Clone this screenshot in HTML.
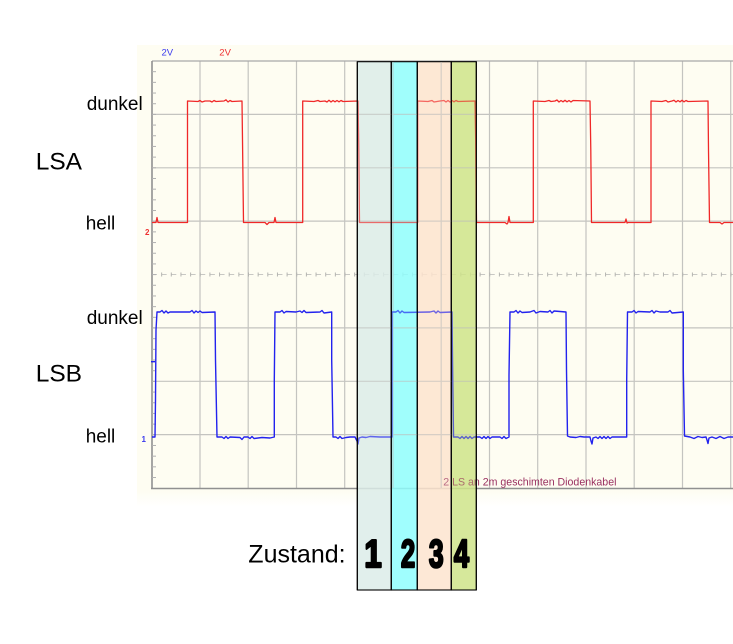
<!DOCTYPE html>
<html><head><meta charset="utf-8"><style>
html,body{margin:0;padding:0;background:#fff;}
svg{display:block;}
</style></head><body>
<svg width="733" height="644" viewBox="0 0 733 644" xmlns="http://www.w3.org/2000/svg" xmlns:xlink="http://www.w3.org/1999/xlink" font-family="'Liberation Sans', Arial, sans-serif">
<rect x="0" y="0" width="733" height="644" fill="#ffffff"/>
<defs>
<linearGradient id="fade" x1="0" y1="0" x2="0" y2="1">
<stop offset="0" stop-color="#fefdf2"/><stop offset="1" stop-color="#ffffff"/>
</linearGradient>
<clipPath id="cols"><rect x="358" y="62" width="118" height="426"/></clipPath>
</defs>
<rect x="137" y="45" width="596" height="447" fill="#fefdf2"/>
<rect x="137" y="491" width="596" height="16" fill="url(#fade)"/>

<!-- grid -->
<g id="grid" stroke="#c4c4c0" stroke-width="1.2">
<line x1="200" y1="61" x2="200" y2="488"/>
<line x1="248.2" y1="61" x2="248.2" y2="488"/>
<line x1="296.5" y1="61" x2="296.5" y2="488"/>
<line x1="344.7" y1="61" x2="344.7" y2="488"/>
<line x1="393" y1="61" x2="393" y2="488"/>
<line x1="441.2" y1="61" x2="441.2" y2="488"/>
<line x1="489.5" y1="61" x2="489.5" y2="488"/>
<line x1="537.7" y1="61" x2="537.7" y2="488"/>
<line x1="586" y1="61" x2="586" y2="488"/>
<line x1="634.2" y1="61" x2="634.2" y2="488"/>
<line x1="682.5" y1="61" x2="682.5" y2="488"/>
<line x1="730.7" y1="61" x2="730.7" y2="488"/>
<line x1="152" y1="114.4" x2="733" y2="114.4"/>
<line x1="152" y1="167.8" x2="733" y2="167.8"/>
<line x1="152" y1="221.1" x2="733" y2="221.1"/>
<line x1="152" y1="327.9" x2="733" y2="327.9"/>
<line x1="152" y1="381.3" x2="733" y2="381.3"/>
<line x1="152" y1="434.6" x2="733" y2="434.6"/>
</g>
<!-- center tick axis -->
<line x1="152" y1="274.5" x2="733" y2="274.5" stroke="#c8c8c4" stroke-width="1" stroke-dasharray="5,4.65"/>
<g stroke="#b4b4b0" stroke-width="1" id="cticks"></g>
<!-- border -->
<line x1="152" y1="61" x2="733" y2="61" stroke="#a8a8a8" stroke-width="1.3"/>
<line x1="152" y1="61" x2="152" y2="489" stroke="#909090" stroke-width="1.6"/>
<line x1="151" y1="488.5" x2="733" y2="488.5" stroke="#909090" stroke-width="1.6"/>
<g stroke="#b0b0b0" stroke-width="1" id="lticks"></g>

<!-- red trace -->
<path id="red" fill="none" stroke="#f02828" stroke-width="1.3" stroke-linejoin="round" d="
M152,222.5 L156,222.5 L157,217.5 L158,222.5 L187.5,222.5 L187.5,101
L198,101.5 L200,100.5 L202,102 L205,101 L210,101 L212,102 L214,100.5 L216,101.5 L224,101 L226,99.8 L228,102 L230,100.5 L232,101.5 L242,101
L242.5,140 L243.5,222.5 L265,222.5 L267,224.5 L269,222.5 L274,222.5 L275,217.5 L276,222.5 L302.7,222.5 L302.7,101
L314,101.5 L318,100.5 L320,101.5 L325,101 L327,102 L329,100.3 L331,102 L333,100.5 L335,101.8 L337,100.5 L339,101.8 L341,100.5 L343,101.5 L358,101
L358.8,150 L359.5,222.5 L417.7,222.5 L417.7,101
L428,101.5 L432,100.5 L434,102 L440,101 L444,100.5 L446,102 L448,100.5 L450,102 L452,100.5 L454,101.8 L456,100.5 L458,101.5 L475,101
L475.7,140 L476.5,222.5 L505,222.5 L507,224 L508,222.5 L509,216.5 L510,222.5 L533.3,222.5 L533.3,101
L545,101.5 L549,100.5 L551,101.5 L555,101 L557,100 L559,102 L561,100.5 L563,101.8 L565,100.3 L567,101.8 L569,100.5 L571,102 L573,100.5 L590,101
L590.8,150 L591.5,222.5 L625,222.5 L626,219 L627,223 L628,222.5 L651,222.5 L651,101
L662,101.5 L666,100.5 L668,102 L672,101 L674,100.3 L676,102 L678,100.5 L680,101.8 L682,100.3 L684,101.8 L686,100.5 L688,101.5 L708,101
L708.5,150 L709.5,222.5 L720,222.5 L722,224 L724,222.5 L733,222.5"/>

<!-- blue trace -->
<path id="blue" fill="none" stroke="#2222ee" stroke-width="1.4" stroke-linejoin="round" d="
M151,361.7 L155,361.7 M152,437 L155,437 L155.5,400 L156,330 L157,312
L160,312 L162,310.5 L164,313 L166,311 L168,313 L170,312 L178,312 L190,312 L192,310.5 L194,313 L196,311 L198,312.5 L200,311 L202,312.5 L215,312
L215.5,360 L217,437 L222,437 L224,438.5 L226,436.5 L228,438.5 L230,437 L240,437.5 L242,439.5 L244,437 L248,437 L250,438.5 L252,436.5 L254,438.5 L262,437.5 L270,438 L274.3,437
L274.3,380 L275,312 L280,312 L282,310.5 L284,313 L286,311.5 L296,312 L300,311 L302,312.5 L304,310.5 L306,312.5 L320,312 L322,310.5 L324,313 L331.7,312
L331.7,360 L333,437 L336,437 L338,438.5 L340,436.5 L342,438.5 L346,437.5 L350,437 L355,437 L357,441 L358,444 L359,438 L362,437 L366,437.5 L370,436.5 L380,437 L392,437
L392,312 L396,312 L398,310.5 L400,313 L402,311 L404,312.5 L430,312 L434,311 L436,313 L438,311 L440,312.5 L452,312
L452.5,360 L453.5,437 L458,437 L460,438.5 L462,436.5 L464,438.5 L466,436.5 L468,438.5 L470,436.5 L472,438.5 L474,437 L480,437 L482,438.5 L484,436.5 L486,438.5 L488,436.5 L490,438.5 L492,437 L500,437 L502,438.5 L504,436.5 L506,438.5 L509,437
L509,375 L510,312 L514,312 L516,310.5 L518,313 L520,311 L522,312.5 L530,312 L534,310.5 L536,313 L540,311.5 L548,312 L550,310.5 L552,313 L554,311 L566,312
L566.5,370 L567.5,436 L570,437 L576,437.5 L580,436.5 L584,437 L590,437 L591,441 L592,444 L593,438 L596,437 L598,438.5 L600,436.5 L602,438.5 L604,436.5 L606,438.5 L608,436.5 L610,438.5 L612,437 L626.7,437
L626.7,380 L627.5,312 L632,312 L634,310.5 L636,313 L638,311.5 L650,312 L652,310.5 L654,313 L656,311 L660,312 L668,312 L670,310.5 L672,313 L683.3,312
L683.3,370 L684.5,436 L690,437 L694,438.5 L698,436.5 L702,437.5 L706,437 L707,440 L708,443.5 L709,438 L712,437 L716,438.5 L720,436.5 L724,438.5 L728,437 L733,437"/>

<!-- small labels -->
<text x="161.5" y="55.5" font-size="9.5" fill="#3a3aee">2V</text>
<text x="219.3" y="55.5" font-size="9.5" fill="#ee3030">2V</text>
<text x="145" y="235" font-size="8" fill="#ee3030" font-weight="bold">2</text>
<text x="141.5" y="442" font-size="8" fill="#3a3aee" font-weight="bold">1</text>
<text id="cap" x="443.3" y="485.5" font-size="10.6" fill="#9a3060">2 LS an 2m geschimten Diodenkabel</text>

<!-- state columns -->
<g stroke="#000" stroke-width="1.1">
<rect x="357.3" y="61.7" width="34" height="528.3" fill="#dcece9" fill-opacity="0.85"/>
<rect x="391.3" y="61.7" width="26" height="528.3" fill="#8ffefe" fill-opacity="0.85"/>
<rect x="417.3" y="61.7" width="34" height="528.3" fill="#fde4cf" fill-opacity="0.85"/>
<rect x="451.3" y="61.7" width="25" height="528.3" fill="#cfe489" fill-opacity="0.85"/>
</g>
<!-- see-through of grid and traces inside columns -->
<g clip-path="url(#cols)" opacity="0.6">
<use xlink:href="#grid" href="#grid"/>
<use xlink:href="#red" href="#red"/>
<use xlink:href="#blue" href="#blue"/>
<use xlink:href="#cap" href="#cap"/>
</g>
<g stroke="#000" stroke-width="1.1" fill="none">
<line x1="357.3" y1="61.7" x2="357.3" y2="590"/>
<line x1="391.3" y1="61.7" x2="391.3" y2="590"/>
<line x1="417.3" y1="61.7" x2="417.3" y2="590"/>
<line x1="451.3" y1="61.7" x2="451.3" y2="590"/>
<line x1="476.3" y1="61.7" x2="476.3" y2="590"/>
</g>

<!-- left labels -->
<g fill="#000">
<text x="86.7" y="110" font-size="19">dunkel</text>
<text x="35.7" y="169.3" font-size="24.5">LSA</text>
<text x="85.7" y="229.3" font-size="19">hell</text>
<text x="86.7" y="324" font-size="19">dunkel</text>
<text x="35.7" y="381.7" font-size="24.5">LSB</text>
<text x="85.7" y="442.7" font-size="19">hell</text>
<text x="248.3" y="562.3" font-size="25">Zustand:</text>
</g>
<g fill="#000" stroke="#000" stroke-width="2.4" stroke-linejoin="round" font-weight="bold" font-size="39" text-anchor="middle">
<text transform="translate(373,567) scale(0.8,1)">1</text>
<text transform="translate(408,567) scale(0.66,1)">2</text>
<text transform="translate(436.2,567) scale(0.68,1)">3</text>
<text transform="translate(461.5,567) scale(0.7,1)">4</text>
</g>
</svg>
<script>
(function(){
  var ns="http://www.w3.org/2000/svg";
  var c=document.getElementById("cticks");
  for(var x=152+9.65;x<733;x+=9.65){
    var l=document.createElementNS(ns,"line");
    l.setAttribute("x1",x.toFixed(2));l.setAttribute("x2",x.toFixed(2));
    l.setAttribute("y1","272.5");l.setAttribute("y2","276.5");c.appendChild(l);
  }
  var t=document.getElementById("lticks");
  for(var y=61+10.68;y<488;y+=10.68){
    var l2=document.createElementNS(ns,"line");
    l2.setAttribute("x1","152");l2.setAttribute("x2","156");
    l2.setAttribute("y1",y.toFixed(2));l2.setAttribute("y2",y.toFixed(2));t.appendChild(l2);
  }
})();
</script>
</body></html>
